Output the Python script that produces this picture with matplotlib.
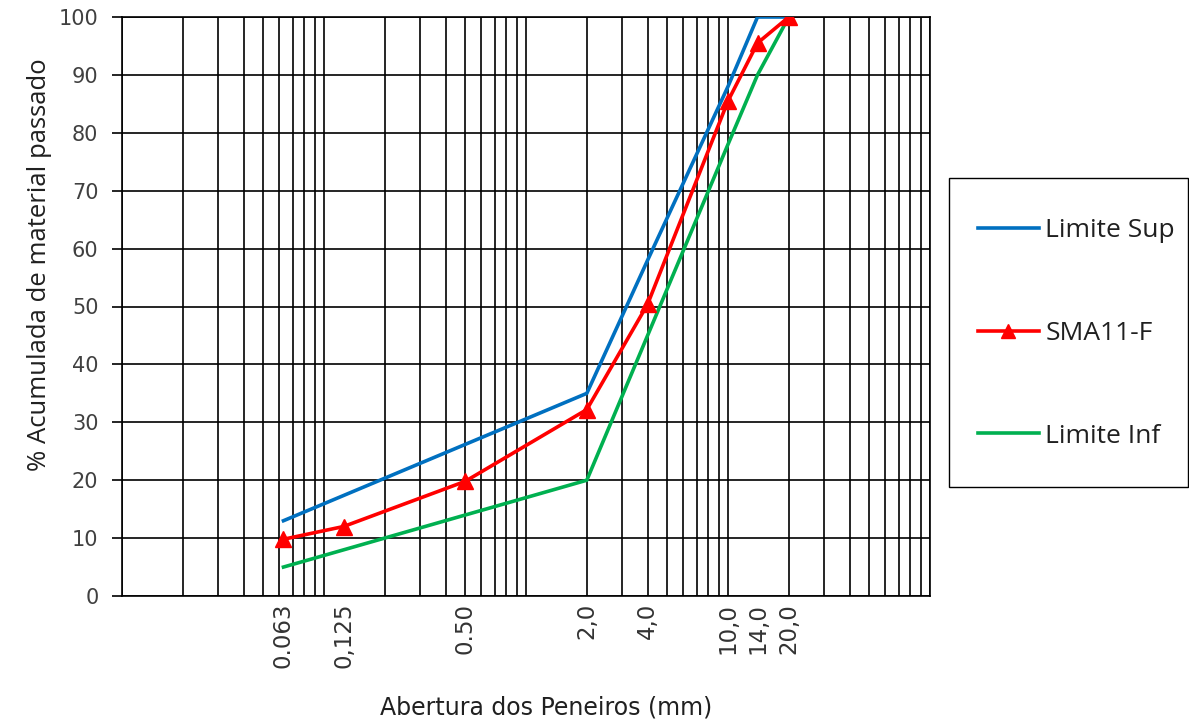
import matplotlib
matplotlib.use("Agg")
import matplotlib.pyplot as plt
from matplotlib.patches import Rectangle
from matplotlib.ticker import LogLocator, FixedLocator, FixedFormatter, NullFormatter

# Data
sup_x = [0.063, 2.0, 4.0, 10.0, 14.0, 20.0]
sup_y = [13.0, 35.0, 58.0, 88.0, 100.0, 100.0]
sma_x = [0.063, 0.125, 0.5, 2.0, 4.0, 10.0, 14.0, 20.0]
sma_y = [9.8, 12.0, 19.8, 32.2, 50.4, 85.5, 95.5, 100.0]
inf_x = [0.063, 2.0, 4.0, 10.0, 14.0, 20.0]
inf_y = [5.0, 20.0, 45.0, 78.0, 90.0, 100.0]
tick_pos = [0.063, 0.125, 0.5, 2.0, 4.0, 10.0, 14.0, 20.0]
tick_lbl = ["0.063", "0,125", "0.50", "2,0", "4,0", "10,0", "14,0", "20,0"]

W, H = 1189, 719
fig = plt.figure(figsize=(W/100, H/100), dpi=100)
ax = fig.add_axes([122/W, 1-596/H, (930-122)/W, (596-17)/H])

ax.plot(sup_x, sup_y, color="#0070C0", lw=2.6, label="Limite Sup", zorder=3)
ax.plot(sma_x, sma_y, color="#FF0000", lw=2.6, marker="^", ms=11, label="SMA11-F", zorder=4)
ax.plot(inf_x, inf_y, color="#00B050", lw=2.6, label="Limite Inf", zorder=3)

ax.set_xscale("log")
ax.set_xlim(0.01, 100)
ax.set_ylim(0, 100)
ax.set_yticks(range(0, 101, 10))

ax.xaxis.set_major_locator(FixedLocator(tick_pos))
ax.xaxis.set_major_formatter(FixedFormatter(tick_lbl))
ax.xaxis.set_minor_locator(LogLocator(base=10, subs=[1, 2, 3, 4, 5, 6, 7, 8, 9], numticks=20))
ax.xaxis.set_minor_formatter(NullFormatter())
ax.xaxis.remove_overlapping_locs = False

ax.grid(False)
ax.grid(True, which="minor", axis="x", color="black", lw=1.2)
ax.grid(True, which="major", axis="y", color="black", lw=1.2)
ax.set_axisbelow(True)

ax.tick_params(axis="x", which="both", length=0, pad=5, labelsize=16.5, labelcolor="#333333", labelrotation=90)
ax.tick_params(axis="y", which="major", length=7, width=1.2, labelsize=15, labelcolor="#404040", pad=10)
for lbl in ax.get_xticklabels() + ax.get_yticklabels():
    lbl.set_fontfamily("DejaVu Sans")
for s in ax.spines.values():
    s.set_color("black")
    s.set_linewidth(1.2)

ax.set_xlabel("Abertura dos Peneiros (mm)", fontsize=17, family="DejaVu Sans", color="#202020")
ax.xaxis.set_label_coords((546-122)/808, -(695-596)/579)
ax.set_ylabel("% Acumulada de material passado", fontsize=18.5, family="Open Sans", color="#202020")
ax.yaxis.set_label_coords(-0.087, 0.572)

# legend frame
fig.patches.append(Rectangle((949/W, 1-487/H), (1188-949)/W, (487-178)/H, transform=fig.transFigure,
                             fill=False, ec="black", lw=1.0))
leg = fig.legend(loc="upper left", bbox_to_anchor=(978/W, 1-218/H), bbox_transform=fig.transFigure,
                 prop={"family": "Open Sans", "size": 19}, frameon=False,
                 handlelength=2.3, handletextpad=0.25, labelspacing=2.95,
                 borderpad=0, borderaxespad=0, markerscale=0.9)
for t in leg.get_texts():
    t.set_color("#202020")

fig.savefig("out.png", dpi=100)
